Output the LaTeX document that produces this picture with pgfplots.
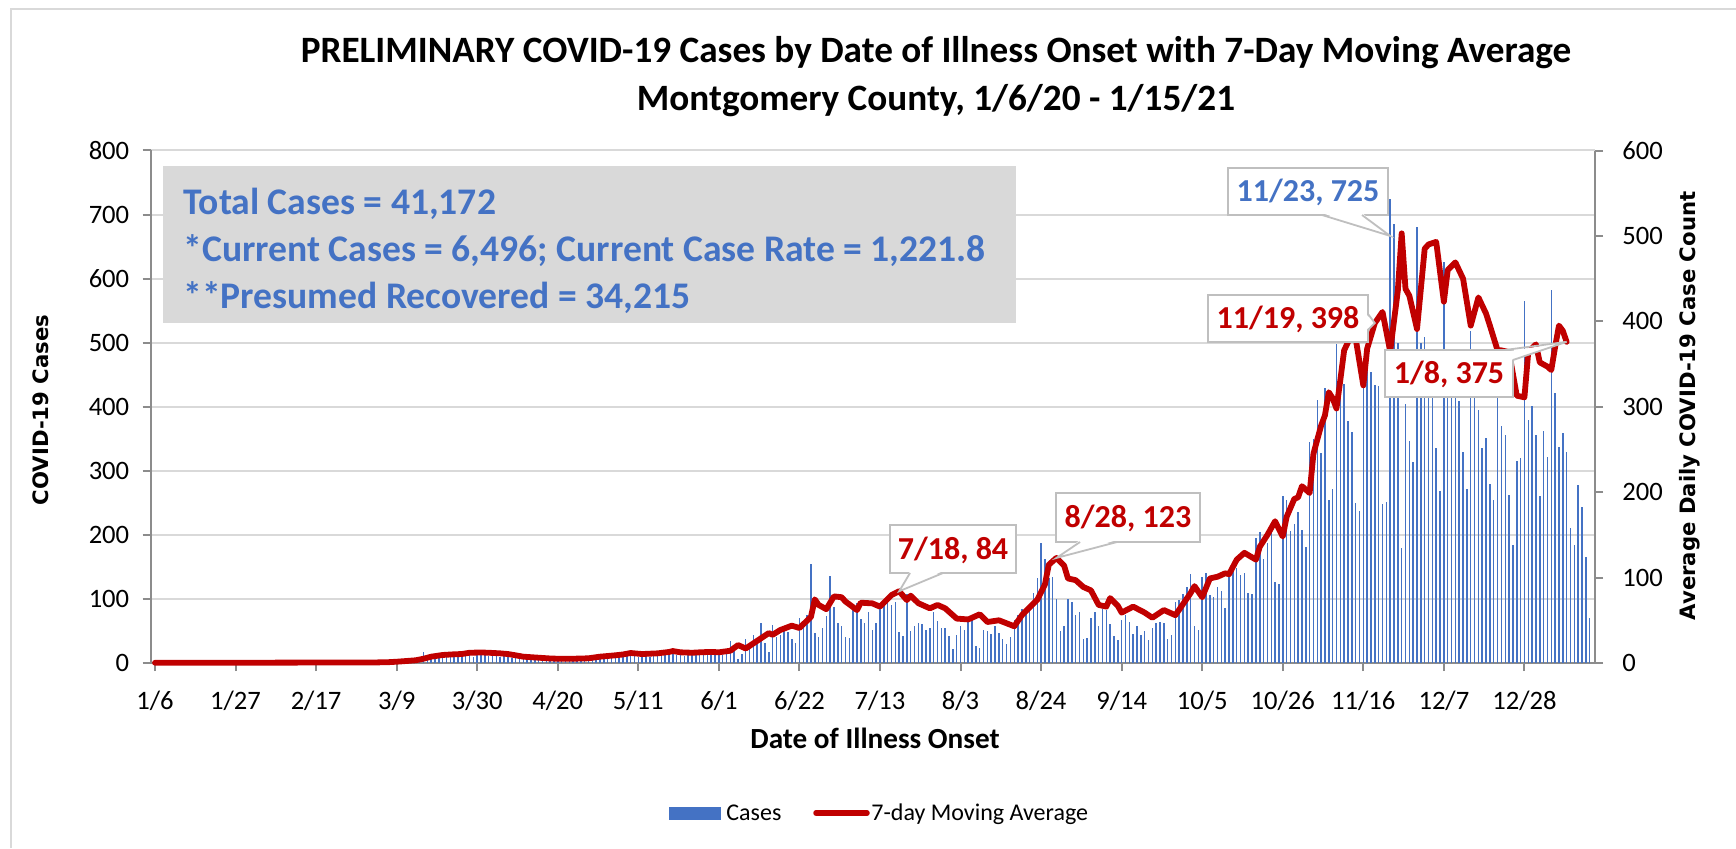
\documentclass[border=0pt]{standalone}
\usepackage{fontspec}
\setmainfont{Carlito}
\newfontfamily\dejavu{DejaVu Sans}
\usepackage{pgfplots}
\pgfplotsset{compat=1.18}
\definecolor{barblue}{HTML}{4472C4}
\definecolor{mared}{HTML}{C00000}
\definecolor{gridgray}{HTML}{D9D9D9}
\definecolor{axgray}{HTML}{8C8C8C}
\definecolor{boxgray}{HTML}{D9D9D9}
\definecolor{callgray}{HTML}{BFBFBF}
\begin{document}
\begin{tikzpicture}
\begin{axis}[
 at={(75.3pt,92.5pt)}, anchor=south west, scale only axis, width=722.2pt, height=256.25pt,
 xmin=-1.15, xmax=375.4, ymin=0, ymax=800,
 axis x line=bottom, axis y line=left, axis line style={-, draw=axgray, line width=1pt},
 xtick={0,21,...,357},
 xticklabels={1/6,1/27,2/17,3/9,3/30,4/20,5/11,6/1,6/22,7/13,8/3,8/24,9/14,10/5,10/26,11/16,12/7,12/28},
 ytick={0,100,...,800},
 tick align=outside, major tick length=4pt, tick style={draw=axgray, line width=1pt},
 ymajorgrids, grid style={draw=gridgray, line width=1pt},
 /pgf/number format/assume math mode=true,
 ticklabel style={font=\fontsize{13.3}{15}\selectfont, inner sep=0pt},
 xticklabel style={anchor=base, yshift=-19.3pt},
 yticklabel style={anchor=east, xshift=-6.5pt},
]
\addplot[ycomb, draw=barblue, line width=0.75pt, no marks] coordinates {
(0,0)(1,0)(2,0)(3,0)(4,0)(5,0)(6,0)(7,0)(8,0)(9,1)(10,0)(11,0)(12,0)(13,0)(14,0)(15,0)(16,0)(17,0)(18,0)(19,0)
(20,0)(21,0)(22,1)(23,0)(24,0)(25,0)(26,0)(27,0)(28,0)(29,0)(30,0)(31,0)(32,0)(33,0)(34,0)(35,1)(36,0)(37,0)(38,0)(39,0)
(40,0)(41,1)(42,0)(43,0)(44,0)(45,0)(46,0)(47,1)(48,0)(49,0)(50,1)(51,0)(52,0)(53,2)(54,0)(55,1)(56,0)(57,2)(58,1)(59,2)
(60,0)(61,1)(62,1)(63,2)(64,2)(65,3)(66,4)(67,3)(68,5)(69,6)(70,17)(71,8)(72,9)(73,10)(74,8)(75,11)(76,10)(77,12)(78,9)(79,11)
(80,13)(81,12)(82,14)(83,10)(84,13)(85,12)(86,15)(87,11)(88,13)(89,12)(90,10)(91,11)(92,9)(93,8)(94,10)(95,7)(96,8)(97,6)(98,7)(99,5)
(100,6)(101,7)(102,6)(103,5)(104,4)(105,6)(106,5)(107,5)(108,4)(109,5)(110,6)(111,4)(112,5)(113,6)(114,7)(115,6)(116,8)(117,7)(118,9)(119,10)
(120,9)(121,11)(122,10)(123,12)(124,11)(125,13)(126,10)(127,9)(128,12)(129,10)(130,11)(131,13)(132,12)(133,18)(134,15)(135,16)(136,13)(137,12)(138,11)(139,13)
(140,14)(141,12)(142,12)(143,13)(144,14)(145,12)(146,13)(147,15)(148,12)(149,15)(150,34)(151,19)(152,6)(153,14)(154,38)(155,31)(156,43)(157,37)(158,63)(159,32)
(160,17)(161,59)(162,40)(163,43)(164,51)(165,49)(166,38)(167,31)(168,71)(169,62)(170,75)(171,154)(172,47)(173,41)(174,55)(175,74)(176,136)(177,87)(178,63)(179,57)
(180,40)(181,39)(182,83)(183,93)(184,69)(185,62)(186,79)(187,51)(188,62)(189,86)(190,92)(191,94)(192,90)(193,95)(194,49)(195,42)(196,108)(197,50)(198,57)(199,63)
(200,61)(201,52)(202,55)(203,79)(204,65)(205,54)(206,54)(207,42)(208,22)(209,43)(210,57)(211,52)(212,64)(213,70)(214,27)(215,24)(216,52)(217,50)(218,45)(219,57)
(220,47)(221,37)(222,30)(223,41)(224,67)(225,75)(226,85)(227,79)(228,86)(229,109)(230,132)(231,188)(232,162)(233,133)(234,134)(235,100)(236,50)(237,57)(238,100)(239,95)
(240,75)(241,80)(242,38)(243,39)(244,70)(245,80)(246,57)(247,84)(248,82)(249,61)(250,42)(251,36)(252,67)(253,75)(254,64)(255,46)(256,57)(257,44)(258,50)(259,36)
(260,54)(261,62)(262,64)(263,62)(264,37)(265,44)(266,95)(267,99)(268,108)(269,118)(270,139)(271,58)(272,51)(273,135)(274,141)(275,106)(276,103)(277,118)(278,112)(279,86)
(280,136)(281,146)(282,149)(283,138)(284,140)(285,110)(286,108)(287,195)(288,205)(289,163)(290,187)(291,210)(292,127)(293,124)(294,260)(295,254)(296,206)(297,217)(298,236)(299,207)
(300,181)(301,345)(302,350)(303,410)(304,328)(305,430)(306,255)(307,272)(308,498)(309,428)(310,436)(311,377)(312,361)(313,250)(314,238)(315,436)(316,498)(317,455)(318,434)(319,433)
(320,248)(321,252)(322,725)(323,686)(324,500)(325,179)(326,404)(327,346)(328,313)(329,680)(330,500)(331,509)(332,436)(333,436)(334,335)(335,269)(336,626)(337,436)(338,426)(339,415)
(340,409)(341,330)(342,271)(343,519)(344,436)(345,395)(346,335)(347,352)(348,280)(349,255)(350,436)(351,370)(352,356)(353,262)(354,184)(355,316)(356,320)(357,565)(358,379)(359,401)
(360,356)(361,260)(362,362)(363,322)(364,582)(365,422)(366,337)(367,359)(368,330)(369,210)(370,184)(371,278)(372,244)(373,165)(374,70)
};
\end{axis}
\begin{axis}[
 at={(75.3pt,92.5pt)}, anchor=south west, scale only axis, width=722.2pt, height=256.25pt,
 xmin=-1.15, xmax=375.4, ymin=0, ymax=600,
 hide x axis, axis y line*=right, axis line style={-, draw=axgray, line width=1pt},
 ytick={0,100,...,600},
 tick align=outside, major tick length=4pt, tick style={draw=axgray, line width=1pt},
 /pgf/number format/assume math mode=true,
 ticklabel style={font=\fontsize{13.3}{15}\selectfont, inner sep=0pt},
 yticklabel style={anchor=west, xshift=9.5pt},
 clip=false,
]
\addplot[draw=mared, line width=2.9pt, line join=round, line cap=round, no marks] coordinates {
(0,0.3)(10,0.3)(20,0.4)(30,0.4)(40,0.5)(50,0.6)(58,0.7)(61,1)(63,1.5)(66,2.5)(68,3.2)(70,5)(72,7.4)(75,9.4)(78,10.2)(80,10.5)(82,12)(85,12.3)(87,12)(90,11.3)
(92,10.5)(94,9)(96,7.4)(100,6.2)(103,5.3)(105,5)(109,5)(113,5.5)(116,7.4)(120,9)(122,10)(124,11.7)(127,10.5)(131,11.3)(134,12.9)(135,14)(137,12.5)(140,12)(142,12.5)(145,13)
(147,12.5)(150,14.4)(152,21)(154,17)(156,23)(158,29)(160,35)(161,33)(163,38.6)(166,43.7)(168,41)(171,54)(172,74.5)(173,68)(175,63)(177,78)(179,77)(180,72)(183,62)(184,70.6)
(187,69.8)(189,66)(192,79.5)(194,84)(196,73.7)(197,78.8)(199,70)(202,64)(204,68)(206,64)(209,52)(212,51)(215,57)(217,48)(220,50)(224,43)(226,56)(230,74)(232,92)(233,115)
(235,123)(237,114)(238,99)(240,97)(242,89)(244,85)(246,68)(248,66)(249,76)(251,67)(252,59)(255,66)(258,59)(260,53)(263,62)(266,56)(268,69)(270,82)(271,90)(273,77)
(275,99)(277,101)(279,105)(280,104)(282,121)(284,129)(287,121)(288,136)(290,150)(292,166)(294,148)(295,171)(297,192)(298,194)(299,207)(301,199)(302,245)(304,278)(305,290)(306,317)
(307,310)(308,298)(309,331)(310,366)(312,385)(313,380)(315,325)(316,368)(318,398)(320,411)(322,365)(324,436)(325,503)(326,438)(327,430)(329,391)(331,485)(332,490)(334,493)(336,423)
(337,460)(339,469)(341,450)(343,395)(345,428)(347,409)(348,395)(350,366)(351,366)(353,364)(355,313)(357,311)(358,364)(360,373)(361,352)(363,347)(364,343)(365,370)(366,395)(367,389)(368,376)
};
\coordinate (t1) at (axis cs:322,500);
\coordinate (t2) at (axis cs:318,398);
\coordinate (t3) at (axis cs:368,376);
\coordinate (t4) at (axis cs:235,123);
\coordinate (t5) at (axis cs:194,84);
\end{axis}
\begin{scope}[x=0.5pt,y=-0.5pt,shift={(0pt,424pt)}]
% frame
\draw[gridgray, line width=0.8pt] (11,848) -- (11,9) -- (1736,9);
% title
\node[anchor=base, font=\fontsize{18.6}{22}\selectfont\bfseries] at (936,63) {PRELIMINARY COVID-19 Cases by Date of Illness Onset with 7-Day Moving Average};
\node[anchor=base, font=\fontsize{18.6}{22}\selectfont\bfseries] at (936,110.7) {Montgomery County, 1/6/20 - 1/15/21};
% info box
\fill[boxgray] (163,166) rectangle (1016,323);
\begin{scope}[every node/.style={anchor=base west, text=barblue, font=\fontsize{18.8}{22}\selectfont\bfseries, inner sep=0pt}]
\node at (183,215) {Total Cases = 41,172};
\node at (183,262) {*Current Cases = 6,496; Current Case Rate = 1,221.8};
\node at (183,309) {**Presumed Recovered = 34,215};
\end{scope}
% axis titles
\node[anchor=base, font=\fontsize{14.6}{17}\selectfont\bfseries] at (875,748) {Date of Illness Onset};
\node[rotate=90, font=\dejavu\bfseries\fontsize{10.6}{13}\selectfont] at (41,410) {COVID-19 Cases};
\node[rotate=90, font=\dejavu\bfseries\fontsize{10.6}{13}\selectfont] at (1690,406) {Average Daily COVID-19 Case Count};
% callouts
\begin{scope}[callout/.style={draw=callgray, fill=white, line width=0.9pt}]
% 11/23
\draw[callout] (1228,168) rectangle (1388,215);
\fill[white] (1322,213) -- (t1) -- (1362,213) -- cycle;
\draw[callgray, line width=0.9pt] (1322,215) -- (t1) -- (1362,215);
\node[anchor=base, text=barblue, font=\fontsize{16}{19}\selectfont\bfseries, inner sep=0pt] at (1308,201.5) {11/23, 725};
% 11/19
\draw[callout] (1208,295) rectangle (1368,342);
\fill[white] (1366,314) -- (t2) -- (1366,330) -- cycle;
\draw[callgray, line width=0.9pt] (1368,314) -- (t2) -- (1368,330);
\node[anchor=base, text=mared, font=\fontsize{16}{19}\selectfont\bfseries, inner sep=0pt] at (1288,328.5) {11/19, 398};
% 1/8
\draw[callout] (1385,350) rectangle (1513,397);
\fill[white] (1505,352) -- (t3) -- (1511,360) -- cycle;
\draw[callgray, line width=0.9pt] (1505,350) -- (t3) -- (1513,360);
\node[anchor=base, text=mared, font=\fontsize{16}{19}\selectfont\bfseries, inner sep=0pt] at (1449,383.5) {1/8, 375};
% 8/28
\draw[callout] (1056,493) rectangle (1200,542);
\fill[white] (1080,540) -- (t4) -- (1117,540) -- cycle;
\draw[callgray, line width=0.9pt] (1080,542) -- (t4) -- (1117,542);
\node[anchor=base, text=mared, font=\fontsize{16}{19}\selectfont\bfseries, inner sep=0pt] at (1128,527.5) {8/28, 123};
% 7/18
\draw[callout] (890,525) rectangle (1016,573);
\fill[white] (910,571) -- (t5) -- (943,571) -- cycle;
\draw[callgray, line width=0.9pt] (910,573) -- (t5) -- (943,573);
\node[anchor=base, text=mared, font=\fontsize{16}{19}\selectfont\bfseries, inner sep=0pt] at (953,559) {7/18, 84};
\end{scope}
% legend
\fill[barblue] (669,807) rectangle (721,820);
\node[anchor=base west, font=\fontsize{12}{14}\selectfont, inner sep=0pt] at (726,820.5) {Cases};
\draw[mared, line width=2.75pt, line cap=round] (816,813) -- (867,813);
\node[anchor=base west, font=\fontsize{12}{14}\selectfont, inner sep=0pt] at (871,820.5) {7-day Moving Average};
\end{scope}
\pgfresetboundingbox
\useasboundingbox (0pt,0pt) rectangle (868pt,424pt);
\end{tikzpicture}
\end{document}
